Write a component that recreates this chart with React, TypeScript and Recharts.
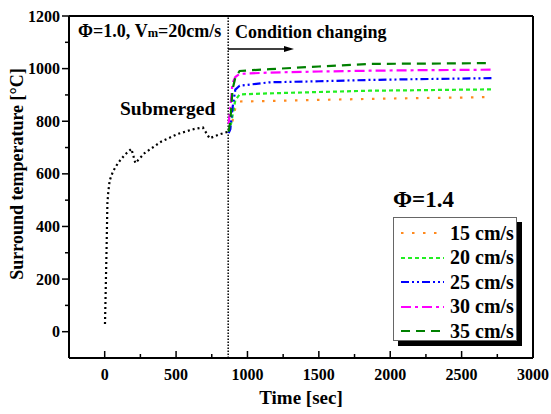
import React from "react";
import {
  LineChart,
  Line,
  XAxis,
  YAxis,
  ReferenceLine,
  Legend,
  Label,
} from "recharts";

// submerged phase (Φ=1.0)
const baseTime = [2, 8, 14, 19, 25, 35, 58, 93, 140, 187, 215, 280, 397, 513, 630, 688, 735, 793, 863];
const baseTemp = [29, 180, 340, 489, 530, 575, 609, 641, 672, 695, 641, 679, 723, 752, 771, 776, 735, 748, 760];

// after condition change (Φ=1.4)
const runTime = [868, 880, 895, 915, 945, 1155, 1500, 1855, 2200, 2500, 2710];
const v15 = [760, 770, 800, 850, 875, 877, 881, 885, 888, 890, 892];
const v20 = [760, 775, 820, 880, 902, 906, 911, 916, 918, 920, 921];
const v25 = [755, 770, 850, 920, 935, 948, 952, 957, 960, 962, 964];
const v30 = [790, 850, 945, 968, 980, 985, 989, 992, 994, 995, 996];
const v35 = [760, 800, 920, 965, 991, 998, 1008, 1018, 1019, 1020, 1021];

const xTicks = [0, 250, 500, 750, 1000, 1250, 1500, 1750, 2000, 2250, 2500, 2750, 3000];
const yTicks = [0, 100, 200, 300, 400, 500, 600, 700, 800, 900, 1000, 1100, 1200];
const changeAt = 865;

const FONT = "'Liberation Serif', 'Times New Roman', serif";

const series = [
  { name: "15 cm/s", values: v15, color: "#ff8a1e", dash: "2.5 8.5" },
  { name: "20 cm/s", values: v20, color: "#22ee22", dash: "4 3" },
  { name: "25 cm/s", values: v25, color: "#0000ff", dash: "8 3 2 3 2 3" },
  { name: "30 cm/s", values: v30, color: "#ff00ff", dash: "10 4 3 4" },
  { name: "35 cm/s", values: v35, color: "#008000", dash: "9 6" },
];

const baseData = baseTime.map((t, i) => ({ t, y: baseTemp[i] }));

const XTick = (props: any) => {
  const { x, y, payload } = props;
  const major = payload.value % 500 === 0;
  return (
    <g>
      <line x1={x} y1={y} x2={x} y2={y - (major ? 7 : 4)} stroke="#000" strokeWidth={1.5} />
      {major && (
        <text x={x} y={y + 22} textAnchor="middle" fontFamily={FONT} fontWeight="bold" fontSize={16} fill="#000">
          {payload.value}
        </text>
      )}
    </g>
  );
};

const YTick = (props: any) => {
  const { x, y, payload } = props;
  const major = payload.value % 200 === 0;
  return (
    <g>
      <line x1={x} y1={y} x2={x - (major ? 7 : 4)} y2={y} stroke="#000" strokeWidth={1.5} />
      {major && (
        <text x={x - 9} y={y + 5.5} textAnchor="end" fontFamily={FONT} fontWeight="bold" fontSize={16} fill="#000">
          {payload.value}
        </text>
      )}
    </g>
  );
};

const renderLegend = () => (
  <div
    style={{
      width: 124,
      height: 124,
      boxSizing: "border-box",
      border: "1px solid #666",
      background: "#fff",
      boxShadow: "5px 5px 0 #000",
      fontFamily: FONT,
      fontWeight: "bold",
      fontSize: 20,
      paddingTop: 3,
    }}
  >
    {series.map((s) => (
      <div key={s.name} style={{ height: 24.5, display: "flex", alignItems: "center", whiteSpace: "nowrap" }}>
        <svg width={52} height={10} style={{ marginLeft: 4, flexShrink: 0 }}>
          <line x1={3} y1={5} x2={46} y2={5} stroke={s.color} strokeWidth={2} strokeDasharray={s.dash} />
        </svg>
        <span>{s.name}</span>
      </div>
    ))}
  </div>
);

export default function App() {
  return (
    <div style={{ position: "absolute", left: 0, top: 0, width: 551, height: 414, background: "#fff" }}>
      <LineChart width={551} height={414} margin={{ top: 16, right: 18, bottom: 26, left: 9 }}>
        <XAxis
          type="number"
          dataKey="t"
          domain={[-250, 3000]}
          ticks={xTicks}
          allowDataOverflow
          height={30}
          tickSize={0}
          tickMargin={0}
          tick={<XTick />}
          tickLine={false}
          axisLine={{ stroke: "#000", strokeWidth: 2 }}
          interval={0}
        >
          <Label
            value="Time [sec]"
            position="bottom"
            offset={3}
            style={{ fontFamily: FONT, fontWeight: "bold", fontSize: 19, fill: "#000" }}
          />
        </XAxis>
        <YAxis
          type="number"
          domain={[-100, 1200]}
          ticks={yTicks}
          allowDataOverflow
          width={60}
          tickSize={0}
          tickMargin={0}
          tick={<YTick />}
          tickLine={false}
          axisLine={{ stroke: "#000", strokeWidth: 2 }}
          interval={0}
        >
          <Label
            content={(p: any) => {
              const vb = p.viewBox;
              const cx = 17;
              const cy = vb.y + vb.height / 2 - 13;
              return (
                <text
                  x={cx}
                  y={cy}
                  transform={`rotate(-90 ${cx} ${cy})`}
                  textAnchor="middle"
                  dominantBaseline="central"
                  fontFamily={FONT}
                  fontWeight="bold"
                  fontSize={18}
                  fill="#000"
                >
                  Surround temperature [°C]
                </text>
              );
            }}
          />
        </YAxis>
        <ReferenceLine y={1200} stroke="#000" strokeWidth={2} />
        <ReferenceLine x={3000} stroke="#000" strokeWidth={2} />
        <ReferenceLine x={changeAt} stroke="#000" strokeWidth={1.5} strokeDasharray="1.5 1.5" />
        <Line
          data={baseData}
          dataKey="y"
          stroke="#000"
          strokeWidth={2.2}
          strokeDasharray="2 3"
          dot={false}
          isAnimationActive={false}
          legendType="none"
          name="Φ=1.0"
        />
        {series.map((s) => (
          <Line
            key={s.name}
            data={runTime.map((t, i) => ({ t, y: s.values[i] }))}
            dataKey="y"
            name={s.name}
            stroke={s.color}
            strokeWidth={2.2}
            strokeDasharray={s.dash}
            dot={false}
            isAnimationActive={false}
          />
        ))}
        <Legend
          content={renderLegend}
          layout="horizontal"
          verticalAlign="middle"
          align="center"
          wrapperStyle={{ position: "absolute", left: 393, top: 217, width: 124, height: 124 }}
        />
      </LineChart>
      <svg
        width={551}
        height={414}
        style={{ position: "absolute", left: 0, top: 0, pointerEvents: "none" }}
        fontFamily={FONT}
        fontWeight="bold"
        fill="#000"
      >
        <text x={78} y={36.5} fontSize={18}>
          Φ=1.0, V<tspan fontSize={12.5}>m</tspan>=20cm/s
        </text>
        <text x={235} y={38} fontSize={18}>Condition changing</text>
        <line x1={228} y1={49} x2={286} y2={49} stroke="#000" strokeWidth={1.5} />
        <polygon points="284,46 294,49 284,52" fill="#000" />
        <text x={120} y={115} fontSize={19.5}>Submerged</text>
        <text x={393} y={207} fontSize={23}>Φ=1.4</text>
      </svg>
    </div>
  );
}
